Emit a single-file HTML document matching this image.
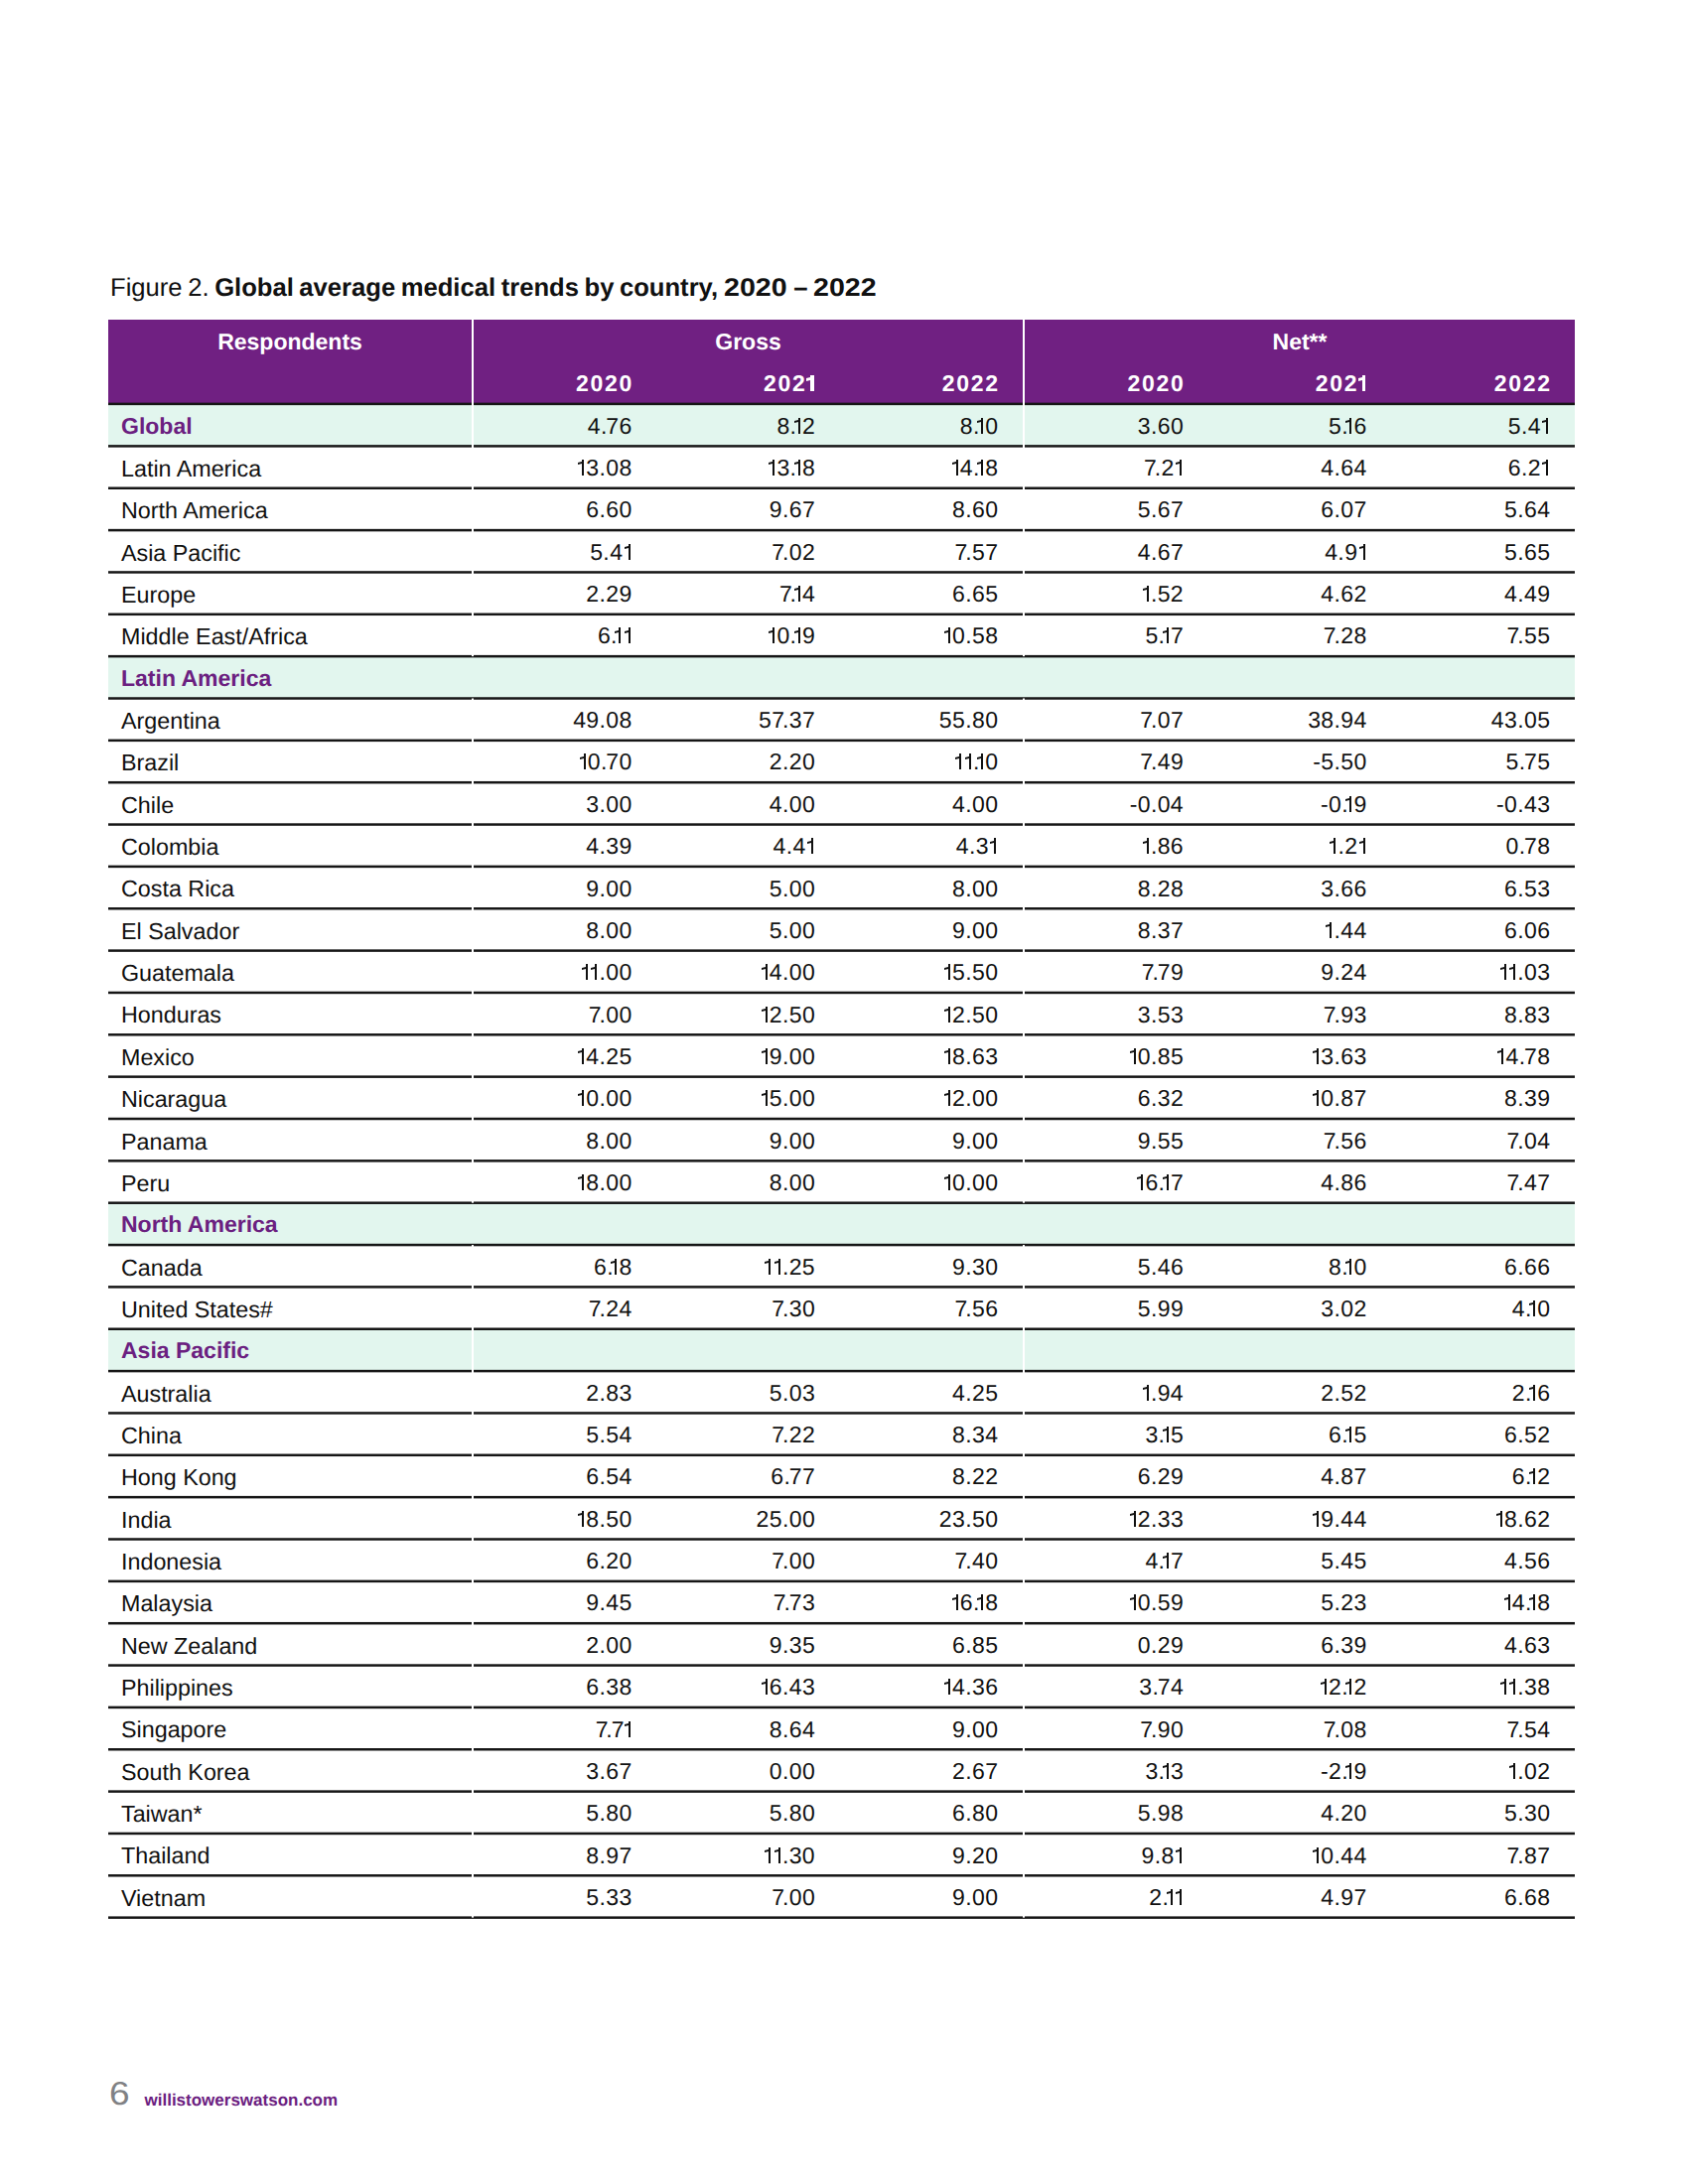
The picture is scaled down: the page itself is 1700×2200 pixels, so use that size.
<!DOCTYPE html>
<html><head><meta charset="utf-8"><title>Figure 2</title><style>
html,body{margin:0;padding:0;background:#fff;}
body{width:1700px;height:2200px;position:relative;overflow:hidden;font-family:"Liberation Sans",sans-serif;color:#111111;text-rendering:geometricPrecision;}
svg{position:absolute;left:0;top:0;}
.ts{display:inline-block;transform:scaleX(1.117);transform-origin:0 0;margin-right:8.0px;}
.a{position:absolute;white-space:nowrap;line-height:40px;height:40px;}
.r{text-align:right;}
.c{text-align:center;}
.hd{color:#fff;font-weight:bold;font-size:23px;}
.lb{font-size:23.3px;}
.nb{font-size:23px;letter-spacing:0.4px;}
.rg{font-size:23px;font-weight:bold;color:#6b2080;}
i.o,i.ob{display:inline-block;position:relative;vertical-align:baseline;font-style:normal;}
i.o{width:6.0px;height:16px;margin-right:2.2px;}
i.ob{width:7.2px;height:16px;margin-right:1.0px;}
i.o::before,i.ob::before{content:"";position:absolute;right:0;top:0;bottom:0;background:currentColor;}
i.o::before{width:2.0px;}
i.ob::before{width:3.4px;}
i.o::after,i.ob::after{content:"";position:absolute;left:0;background:currentColor;transform-origin:100% 0;}
i.o::after{top:2.4px;width:4.0px;height:1.8px;transform:skewY(-14deg);}
i.ob::after{top:2.5px;width:4.0px;height:2.8px;transform:skewY(-14deg);}
</style></head><body>

<div class="a" style="left:111.00px;top:269.82px;font-size:25.60px;word-spacing:-1.5px;color:#111111">Figure 2. <b>Global average medical trends by country, <span class="ts">2020</span> – <span class="ts">2022</span></b></div>
<svg width="1700" height="2200" viewBox="0 0 1700 2200">
<rect x="109.00" y="322.00" width="1477.00" height="84.90" fill="#702082"/>
<rect x="109.00" y="406.90" width="1477.00" height="42.50" fill="#e2f6ee"/>
<rect x="109.00" y="661.15" width="1477.00" height="42.35" fill="#e2f6ee"/>
<rect x="109.00" y="1211.70" width="1477.00" height="42.35" fill="#e2f6ee"/>
<rect x="109.00" y="1338.75" width="1477.00" height="42.35" fill="#e2f6ee"/>
<rect x="109.00" y="405.65" width="1477.00" height="2.50" fill="#161616"/>
<rect x="109.00" y="448.15" width="1477.00" height="2.50" fill="#161616"/>
<rect x="109.00" y="490.50" width="1477.00" height="2.50" fill="#161616"/>
<rect x="109.00" y="532.85" width="1477.00" height="2.50" fill="#161616"/>
<rect x="109.00" y="575.20" width="1477.00" height="2.50" fill="#161616"/>
<rect x="109.00" y="617.55" width="1477.00" height="2.50" fill="#161616"/>
<rect x="109.00" y="659.90" width="1477.00" height="2.50" fill="#161616"/>
<rect x="109.00" y="702.25" width="1477.00" height="2.50" fill="#161616"/>
<rect x="109.00" y="744.60" width="1477.00" height="2.50" fill="#161616"/>
<rect x="109.00" y="786.95" width="1477.00" height="2.50" fill="#161616"/>
<rect x="109.00" y="829.30" width="1477.00" height="2.50" fill="#161616"/>
<rect x="109.00" y="871.65" width="1477.00" height="2.50" fill="#161616"/>
<rect x="109.00" y="914.00" width="1477.00" height="2.50" fill="#161616"/>
<rect x="109.00" y="956.35" width="1477.00" height="2.50" fill="#161616"/>
<rect x="109.00" y="998.70" width="1477.00" height="2.50" fill="#161616"/>
<rect x="109.00" y="1041.05" width="1477.00" height="2.50" fill="#161616"/>
<rect x="109.00" y="1083.40" width="1477.00" height="2.50" fill="#161616"/>
<rect x="109.00" y="1125.75" width="1477.00" height="2.50" fill="#161616"/>
<rect x="109.00" y="1168.10" width="1477.00" height="2.50" fill="#161616"/>
<rect x="109.00" y="1210.45" width="1477.00" height="2.50" fill="#161616"/>
<rect x="109.00" y="1252.80" width="1477.00" height="2.50" fill="#161616"/>
<rect x="109.00" y="1295.15" width="1477.00" height="2.50" fill="#161616"/>
<rect x="109.00" y="1337.50" width="1477.00" height="2.50" fill="#161616"/>
<rect x="109.00" y="1379.85" width="1477.00" height="2.50" fill="#161616"/>
<rect x="109.00" y="1422.20" width="1477.00" height="2.50" fill="#161616"/>
<rect x="109.00" y="1464.55" width="1477.00" height="2.50" fill="#161616"/>
<rect x="109.00" y="1506.90" width="1477.00" height="2.50" fill="#161616"/>
<rect x="109.00" y="1549.25" width="1477.00" height="2.50" fill="#161616"/>
<rect x="109.00" y="1591.60" width="1477.00" height="2.50" fill="#161616"/>
<rect x="109.00" y="1633.95" width="1477.00" height="2.50" fill="#161616"/>
<rect x="109.00" y="1676.30" width="1477.00" height="2.50" fill="#161616"/>
<rect x="109.00" y="1718.65" width="1477.00" height="2.50" fill="#161616"/>
<rect x="109.00" y="1761.00" width="1477.00" height="2.50" fill="#161616"/>
<rect x="109.00" y="1803.35" width="1477.00" height="2.50" fill="#161616"/>
<rect x="109.00" y="1845.70" width="1477.00" height="2.50" fill="#161616"/>
<rect x="109.00" y="1888.05" width="1477.00" height="2.50" fill="#161616"/>
<rect x="109.00" y="1930.40" width="1477.00" height="2.50" fill="#161616"/>
<rect x="475.00" y="322.00" width="2.00" height="339.15" fill="#fff"/>
<rect x="1030.00" y="322.00" width="2.00" height="339.15" fill="#fff"/>
<rect x="475.00" y="703.50" width="2.00" height="508.20" fill="#fff"/>
<rect x="1030.00" y="703.50" width="2.00" height="508.20" fill="#fff"/>
<rect x="475.00" y="1254.05" width="2.00" height="677.60" fill="#fff"/>
<rect x="1030.00" y="1254.05" width="2.00" height="677.60" fill="#fff"/>
</svg>
<div class="a c hd" style="left:109.00px;width:366.00px;top:324.03px">Respondents</div>
<div class="a c hd" style="left:477.00px;width:553.00px;top:324.03px">Gross</div>
<div class="a c hd" style="left:1032.00px;width:554.00px;top:324.03px">Net**</div>
<div class="a r hd" style="right:1061.97px;top:365.53px;letter-spacing:1.7px">2020</div>
<div class="a r hd" style="right:879.33px;top:365.53px;letter-spacing:1.7px">202<i class="ob" style="margin-left:0.0px"></i></div>
<div class="a r hd" style="right:693.30px;top:365.53px;letter-spacing:1.7px">2022</div>
<div class="a r hd" style="right:506.63px;top:365.53px;letter-spacing:1.7px">2020</div>
<div class="a r hd" style="right:323.67px;top:365.53px;letter-spacing:1.7px">202<i class="ob" style="margin-left:0.0px"></i></div>
<div class="a r hd" style="right:137.30px;top:365.53px;letter-spacing:1.7px">2022</div>
<div class="a rg" style="left:122.00px;top:408.53px">Global</div>
<div class="a r nb" style="right:1063.27px;top:408.53px">4.<span style="margin-left:-1.5px">7</span>6</div>
<div class="a r nb" style="right:878.93px;top:408.53px">8.<i class="o" style="margin-left:-2.7px"></i>2</div>
<div class="a r nb" style="right:694.60px;top:408.53px">8.<i class="o" style="margin-left:-2.7px"></i>0</div>
<div class="a r nb" style="right:507.93px;top:408.53px">3.60</div>
<div class="a r nb" style="right:323.27px;top:408.53px">5.<i class="o" style="margin-left:-2.7px"></i>6</div>
<div class="a r nb" style="right:138.50px;top:408.53px">5.4<i class="o" style="margin-left:1.3px"></i></div>
<div class="a lb" style="left:122.00px;top:451.92px">Latin America</div>
<div class="a r nb" style="right:1063.27px;top:451.03px"><i class="o" style="margin-left:0px"></i>3.08</div>
<div class="a r nb" style="right:878.93px;top:451.03px"><i class="o" style="margin-left:0px"></i>3.<i class="o" style="margin-left:-2.7px"></i>8</div>
<div class="a r nb" style="right:694.60px;top:451.03px"><i class="o" style="margin-left:0px"></i>4.<i class="o" style="margin-left:-2.7px"></i>8</div>
<div class="a r nb" style="right:507.83px;top:451.03px">7<span style="margin-left:-2.5px">.</span>2<i class="o" style="margin-left:1.3px"></i></div>
<div class="a r nb" style="right:323.27px;top:451.03px">4.64</div>
<div class="a r nb" style="right:138.50px;top:451.03px">6.2<i class="o" style="margin-left:1.3px"></i></div>
<div class="a lb" style="left:122.00px;top:494.27px">North America</div>
<div class="a r nb" style="right:1063.27px;top:493.38px">6.60</div>
<div class="a r nb" style="right:878.93px;top:493.38px">9.67</div>
<div class="a r nb" style="right:694.60px;top:493.38px">8.60</div>
<div class="a r nb" style="right:507.93px;top:493.38px">5.67</div>
<div class="a r nb" style="right:323.27px;top:493.38px">6.07</div>
<div class="a r nb" style="right:138.60px;top:493.38px">5.64</div>
<div class="a lb" style="left:122.00px;top:536.62px">Asia Pacific</div>
<div class="a r nb" style="right:1063.17px;top:535.73px">5.4<i class="o" style="margin-left:1.3px"></i></div>
<div class="a r nb" style="right:878.93px;top:535.73px">7<span style="margin-left:-2.5px">.</span>02</div>
<div class="a r nb" style="right:694.60px;top:535.73px">7<span style="margin-left:-2.5px">.</span>57</div>
<div class="a r nb" style="right:507.93px;top:535.73px">4.67</div>
<div class="a r nb" style="right:323.17px;top:535.73px">4.9<i class="o" style="margin-left:1.3px"></i></div>
<div class="a r nb" style="right:138.60px;top:535.73px">5.65</div>
<div class="a lb" style="left:122.00px;top:578.97px">Europe</div>
<div class="a r nb" style="right:1063.27px;top:578.08px">2.29</div>
<div class="a r nb" style="right:878.93px;top:578.08px">7<span style="margin-left:-2.5px">.</span><i class="o" style="margin-left:-2.7px"></i>4</div>
<div class="a r nb" style="right:694.60px;top:578.08px">6.65</div>
<div class="a r nb" style="right:507.93px;top:578.08px"><i class="o" style="margin-left:0px"></i>.52</div>
<div class="a r nb" style="right:323.27px;top:578.08px">4.62</div>
<div class="a r nb" style="right:138.60px;top:578.08px">4.49</div>
<div class="a lb" style="left:122.00px;top:621.32px">Middle East/Africa</div>
<div class="a r nb" style="right:1063.17px;top:620.43px">6.<i class="o" style="margin-left:-2.7px"></i><i class="o" style="margin-left:1.3px"></i></div>
<div class="a r nb" style="right:878.93px;top:620.43px"><i class="o" style="margin-left:0px"></i>0.<i class="o" style="margin-left:-2.7px"></i>9</div>
<div class="a r nb" style="right:694.60px;top:620.43px"><i class="o" style="margin-left:0px"></i>0.58</div>
<div class="a r nb" style="right:507.93px;top:620.43px">5.<i class="o" style="margin-left:-2.7px"></i>7</div>
<div class="a r nb" style="right:323.27px;top:620.43px">7<span style="margin-left:-2.5px">.</span>28</div>
<div class="a r nb" style="right:138.60px;top:620.43px">7<span style="margin-left:-2.5px">.</span>55</div>
<div class="a rg" style="left:122.00px;top:662.78px">Latin America</div>
<div class="a lb" style="left:122.00px;top:706.02px">Argentina</div>
<div class="a r nb" style="right:1063.27px;top:705.13px">49.08</div>
<div class="a r nb" style="right:878.93px;top:705.13px">57<span style="margin-left:-2.5px">.</span>37</div>
<div class="a r nb" style="right:694.60px;top:705.13px">55.80</div>
<div class="a r nb" style="right:507.93px;top:705.13px">7<span style="margin-left:-2.5px">.</span>07</div>
<div class="a r nb" style="right:323.27px;top:705.13px">38.94</div>
<div class="a r nb" style="right:138.60px;top:705.13px">43.05</div>
<div class="a lb" style="left:122.00px;top:748.37px">Brazil</div>
<div class="a r nb" style="right:1063.27px;top:747.48px"><i class="o" style="margin-left:0px"></i>0.<span style="margin-left:-1.5px">7</span>0</div>
<div class="a r nb" style="right:878.93px;top:747.48px">2.20</div>
<div class="a r nb" style="right:694.60px;top:747.48px"><i class="o" style="margin-left:0px"></i><i class="o" style="margin-left:1.3px"></i>.<i class="o" style="margin-left:-2.7px"></i>0</div>
<div class="a r nb" style="right:507.93px;top:747.48px">7<span style="margin-left:-2.5px">.</span>49</div>
<div class="a r nb" style="right:323.27px;top:747.48px">-5.50</div>
<div class="a r nb" style="right:138.60px;top:747.48px">5.<span style="margin-left:-1.5px">7</span>5</div>
<div class="a lb" style="left:122.00px;top:790.72px">Chile</div>
<div class="a r nb" style="right:1063.27px;top:789.83px">3.00</div>
<div class="a r nb" style="right:878.93px;top:789.83px">4.00</div>
<div class="a r nb" style="right:694.60px;top:789.83px">4.00</div>
<div class="a r nb" style="right:507.93px;top:789.83px">-0.04</div>
<div class="a r nb" style="right:323.27px;top:789.83px">-0.<i class="o" style="margin-left:-2.7px"></i>9</div>
<div class="a r nb" style="right:138.60px;top:789.83px">-0.43</div>
<div class="a lb" style="left:122.00px;top:833.07px">Colombia</div>
<div class="a r nb" style="right:1063.27px;top:832.18px">4.39</div>
<div class="a r nb" style="right:878.83px;top:832.18px">4.4<i class="o" style="margin-left:1.3px"></i></div>
<div class="a r nb" style="right:694.50px;top:832.18px">4.3<i class="o" style="margin-left:1.3px"></i></div>
<div class="a r nb" style="right:507.93px;top:832.18px"><i class="o" style="margin-left:0px"></i>.86</div>
<div class="a r nb" style="right:323.17px;top:832.18px"><i class="o" style="margin-left:0px"></i>.2<i class="o" style="margin-left:1.3px"></i></div>
<div class="a r nb" style="right:138.60px;top:832.18px">0.<span style="margin-left:-1.5px">7</span>8</div>
<div class="a lb" style="left:122.00px;top:875.42px">Costa Rica</div>
<div class="a r nb" style="right:1063.27px;top:874.53px">9.00</div>
<div class="a r nb" style="right:878.93px;top:874.53px">5.00</div>
<div class="a r nb" style="right:694.60px;top:874.53px">8.00</div>
<div class="a r nb" style="right:507.93px;top:874.53px">8.28</div>
<div class="a r nb" style="right:323.27px;top:874.53px">3.66</div>
<div class="a r nb" style="right:138.60px;top:874.53px">6.53</div>
<div class="a lb" style="left:122.00px;top:917.77px">El Salvador</div>
<div class="a r nb" style="right:1063.27px;top:916.88px">8.00</div>
<div class="a r nb" style="right:878.93px;top:916.88px">5.00</div>
<div class="a r nb" style="right:694.60px;top:916.88px">9.00</div>
<div class="a r nb" style="right:507.93px;top:916.88px">8.37</div>
<div class="a r nb" style="right:323.27px;top:916.88px"><i class="o" style="margin-left:0px"></i>.44</div>
<div class="a r nb" style="right:138.60px;top:916.88px">6.06</div>
<div class="a lb" style="left:122.00px;top:960.12px">Guatemala</div>
<div class="a r nb" style="right:1063.27px;top:959.23px"><i class="o" style="margin-left:0px"></i><i class="o" style="margin-left:1.3px"></i>.00</div>
<div class="a r nb" style="right:878.93px;top:959.23px"><i class="o" style="margin-left:0px"></i>4.00</div>
<div class="a r nb" style="right:694.60px;top:959.23px"><i class="o" style="margin-left:0px"></i>5.50</div>
<div class="a r nb" style="right:507.93px;top:959.23px">7<span style="margin-left:-2.5px">.</span><span style="margin-left:-1.5px">7</span>9</div>
<div class="a r nb" style="right:323.27px;top:959.23px">9.24</div>
<div class="a r nb" style="right:138.60px;top:959.23px"><i class="o" style="margin-left:0px"></i><i class="o" style="margin-left:1.3px"></i>.03</div>
<div class="a lb" style="left:122.00px;top:1002.47px">Honduras</div>
<div class="a r nb" style="right:1063.27px;top:1001.58px">7<span style="margin-left:-2.5px">.</span>00</div>
<div class="a r nb" style="right:878.93px;top:1001.58px"><i class="o" style="margin-left:0px"></i>2.50</div>
<div class="a r nb" style="right:694.60px;top:1001.58px"><i class="o" style="margin-left:0px"></i>2.50</div>
<div class="a r nb" style="right:507.93px;top:1001.58px">3.53</div>
<div class="a r nb" style="right:323.27px;top:1001.58px">7<span style="margin-left:-2.5px">.</span>93</div>
<div class="a r nb" style="right:138.60px;top:1001.58px">8.83</div>
<div class="a lb" style="left:122.00px;top:1044.82px">Mexico</div>
<div class="a r nb" style="right:1063.27px;top:1043.93px"><i class="o" style="margin-left:0px"></i>4.25</div>
<div class="a r nb" style="right:878.93px;top:1043.93px"><i class="o" style="margin-left:0px"></i>9.00</div>
<div class="a r nb" style="right:694.60px;top:1043.93px"><i class="o" style="margin-left:0px"></i>8.63</div>
<div class="a r nb" style="right:507.93px;top:1043.93px"><i class="o" style="margin-left:0px"></i>0.85</div>
<div class="a r nb" style="right:323.27px;top:1043.93px"><i class="o" style="margin-left:0px"></i>3.63</div>
<div class="a r nb" style="right:138.60px;top:1043.93px"><i class="o" style="margin-left:0px"></i>4.<span style="margin-left:-1.5px">7</span>8</div>
<div class="a lb" style="left:122.00px;top:1087.17px">Nicaragua</div>
<div class="a r nb" style="right:1063.27px;top:1086.28px"><i class="o" style="margin-left:0px"></i>0.00</div>
<div class="a r nb" style="right:878.93px;top:1086.28px"><i class="o" style="margin-left:0px"></i>5.00</div>
<div class="a r nb" style="right:694.60px;top:1086.28px"><i class="o" style="margin-left:0px"></i>2.00</div>
<div class="a r nb" style="right:507.93px;top:1086.28px">6.32</div>
<div class="a r nb" style="right:323.27px;top:1086.28px"><i class="o" style="margin-left:0px"></i>0.87</div>
<div class="a r nb" style="right:138.60px;top:1086.28px">8.39</div>
<div class="a lb" style="left:122.00px;top:1129.52px">Panama</div>
<div class="a r nb" style="right:1063.27px;top:1128.63px">8.00</div>
<div class="a r nb" style="right:878.93px;top:1128.63px">9.00</div>
<div class="a r nb" style="right:694.60px;top:1128.63px">9.00</div>
<div class="a r nb" style="right:507.93px;top:1128.63px">9.55</div>
<div class="a r nb" style="right:323.27px;top:1128.63px">7<span style="margin-left:-2.5px">.</span>56</div>
<div class="a r nb" style="right:138.60px;top:1128.63px">7<span style="margin-left:-2.5px">.</span>04</div>
<div class="a lb" style="left:122.00px;top:1171.87px">Peru</div>
<div class="a r nb" style="right:1063.27px;top:1170.98px"><i class="o" style="margin-left:0px"></i>8.00</div>
<div class="a r nb" style="right:878.93px;top:1170.98px">8.00</div>
<div class="a r nb" style="right:694.60px;top:1170.98px"><i class="o" style="margin-left:0px"></i>0.00</div>
<div class="a r nb" style="right:507.93px;top:1170.98px"><i class="o" style="margin-left:0px"></i>6.<i class="o" style="margin-left:-2.7px"></i>7</div>
<div class="a r nb" style="right:323.27px;top:1170.98px">4.86</div>
<div class="a r nb" style="right:138.60px;top:1170.98px">7<span style="margin-left:-2.5px">.</span>47</div>
<div class="a rg" style="left:122.00px;top:1213.33px">North America</div>
<div class="a lb" style="left:122.00px;top:1256.57px">Canada</div>
<div class="a r nb" style="right:1063.27px;top:1255.68px">6.<i class="o" style="margin-left:-2.7px"></i>8</div>
<div class="a r nb" style="right:878.93px;top:1255.68px"><i class="o" style="margin-left:0px"></i><i class="o" style="margin-left:1.3px"></i>.25</div>
<div class="a r nb" style="right:694.60px;top:1255.68px">9.30</div>
<div class="a r nb" style="right:507.93px;top:1255.68px">5.46</div>
<div class="a r nb" style="right:323.27px;top:1255.68px">8.<i class="o" style="margin-left:-2.7px"></i>0</div>
<div class="a r nb" style="right:138.60px;top:1255.68px">6.66</div>
<div class="a lb" style="left:122.00px;top:1298.92px">United States#</div>
<div class="a r nb" style="right:1063.27px;top:1298.03px">7<span style="margin-left:-2.5px">.</span>24</div>
<div class="a r nb" style="right:878.93px;top:1298.03px">7<span style="margin-left:-2.5px">.</span>30</div>
<div class="a r nb" style="right:694.60px;top:1298.03px">7<span style="margin-left:-2.5px">.</span>56</div>
<div class="a r nb" style="right:507.93px;top:1298.03px">5.99</div>
<div class="a r nb" style="right:323.27px;top:1298.03px">3.02</div>
<div class="a r nb" style="right:138.60px;top:1298.03px">4.<i class="o" style="margin-left:-2.7px"></i>0</div>
<div class="a rg" style="left:122.00px;top:1340.38px">Asia Pacific</div>
<div class="a lb" style="left:122.00px;top:1383.62px">Australia</div>
<div class="a r nb" style="right:1063.27px;top:1382.73px">2.83</div>
<div class="a r nb" style="right:878.93px;top:1382.73px">5.03</div>
<div class="a r nb" style="right:694.60px;top:1382.73px">4.25</div>
<div class="a r nb" style="right:507.93px;top:1382.73px"><i class="o" style="margin-left:0px"></i>.94</div>
<div class="a r nb" style="right:323.27px;top:1382.73px">2.52</div>
<div class="a r nb" style="right:138.60px;top:1382.73px">2.<i class="o" style="margin-left:-2.7px"></i>6</div>
<div class="a lb" style="left:122.00px;top:1425.97px">China</div>
<div class="a r nb" style="right:1063.27px;top:1425.08px">5.54</div>
<div class="a r nb" style="right:878.93px;top:1425.08px">7<span style="margin-left:-2.5px">.</span>22</div>
<div class="a r nb" style="right:694.60px;top:1425.08px">8.34</div>
<div class="a r nb" style="right:507.93px;top:1425.08px">3.<i class="o" style="margin-left:-2.7px"></i>5</div>
<div class="a r nb" style="right:323.27px;top:1425.08px">6.<i class="o" style="margin-left:-2.7px"></i>5</div>
<div class="a r nb" style="right:138.60px;top:1425.08px">6.52</div>
<div class="a lb" style="left:122.00px;top:1468.32px">Hong Kong</div>
<div class="a r nb" style="right:1063.27px;top:1467.43px">6.54</div>
<div class="a r nb" style="right:878.93px;top:1467.43px">6.<span style="margin-left:-1.5px">7</span>7</div>
<div class="a r nb" style="right:694.60px;top:1467.43px">8.22</div>
<div class="a r nb" style="right:507.93px;top:1467.43px">6.29</div>
<div class="a r nb" style="right:323.27px;top:1467.43px">4.87</div>
<div class="a r nb" style="right:138.60px;top:1467.43px">6.<i class="o" style="margin-left:-2.7px"></i>2</div>
<div class="a lb" style="left:122.00px;top:1510.67px">India</div>
<div class="a r nb" style="right:1063.27px;top:1509.78px"><i class="o" style="margin-left:0px"></i>8.50</div>
<div class="a r nb" style="right:878.93px;top:1509.78px">25.00</div>
<div class="a r nb" style="right:694.60px;top:1509.78px">23.50</div>
<div class="a r nb" style="right:507.93px;top:1509.78px"><i class="o" style="margin-left:0px"></i>2.33</div>
<div class="a r nb" style="right:323.27px;top:1509.78px"><i class="o" style="margin-left:0px"></i>9.44</div>
<div class="a r nb" style="right:138.60px;top:1509.78px"><i class="o" style="margin-left:0px"></i>8.62</div>
<div class="a lb" style="left:122.00px;top:1553.02px">Indonesia</div>
<div class="a r nb" style="right:1063.27px;top:1552.13px">6.20</div>
<div class="a r nb" style="right:878.93px;top:1552.13px">7<span style="margin-left:-2.5px">.</span>00</div>
<div class="a r nb" style="right:694.60px;top:1552.13px">7<span style="margin-left:-2.5px">.</span>40</div>
<div class="a r nb" style="right:507.93px;top:1552.13px">4.<i class="o" style="margin-left:-2.7px"></i>7</div>
<div class="a r nb" style="right:323.27px;top:1552.13px">5.45</div>
<div class="a r nb" style="right:138.60px;top:1552.13px">4.56</div>
<div class="a lb" style="left:122.00px;top:1595.37px">Malaysia</div>
<div class="a r nb" style="right:1063.27px;top:1594.48px">9.45</div>
<div class="a r nb" style="right:878.93px;top:1594.48px">7<span style="margin-left:-2.5px">.</span><span style="margin-left:-1.5px">7</span>3</div>
<div class="a r nb" style="right:694.60px;top:1594.48px"><i class="o" style="margin-left:0px"></i>6.<i class="o" style="margin-left:-2.7px"></i>8</div>
<div class="a r nb" style="right:507.93px;top:1594.48px"><i class="o" style="margin-left:0px"></i>0.59</div>
<div class="a r nb" style="right:323.27px;top:1594.48px">5.23</div>
<div class="a r nb" style="right:138.60px;top:1594.48px"><i class="o" style="margin-left:0px"></i>4.<i class="o" style="margin-left:-2.7px"></i>8</div>
<div class="a lb" style="left:122.00px;top:1637.72px">New Zealand</div>
<div class="a r nb" style="right:1063.27px;top:1636.83px">2.00</div>
<div class="a r nb" style="right:878.93px;top:1636.83px">9.35</div>
<div class="a r nb" style="right:694.60px;top:1636.83px">6.85</div>
<div class="a r nb" style="right:507.93px;top:1636.83px">0.29</div>
<div class="a r nb" style="right:323.27px;top:1636.83px">6.39</div>
<div class="a r nb" style="right:138.60px;top:1636.83px">4.63</div>
<div class="a lb" style="left:122.00px;top:1680.07px">Philippines</div>
<div class="a r nb" style="right:1063.27px;top:1679.18px">6.38</div>
<div class="a r nb" style="right:878.93px;top:1679.18px"><i class="o" style="margin-left:0px"></i>6.43</div>
<div class="a r nb" style="right:694.60px;top:1679.18px"><i class="o" style="margin-left:0px"></i>4.36</div>
<div class="a r nb" style="right:507.93px;top:1679.18px">3.<span style="margin-left:-1.5px">7</span>4</div>
<div class="a r nb" style="right:323.27px;top:1679.18px"><i class="o" style="margin-left:0px"></i>2.<i class="o" style="margin-left:-2.7px"></i>2</div>
<div class="a r nb" style="right:138.60px;top:1679.18px"><i class="o" style="margin-left:0px"></i><i class="o" style="margin-left:1.3px"></i>.38</div>
<div class="a lb" style="left:122.00px;top:1722.42px">Singapore</div>
<div class="a r nb" style="right:1063.17px;top:1721.53px">7<span style="margin-left:-2.5px">.</span><span style="margin-left:-1.5px">7</span><i class="o" style="margin-left:-0.2px"></i></div>
<div class="a r nb" style="right:878.93px;top:1721.53px">8.64</div>
<div class="a r nb" style="right:694.60px;top:1721.53px">9.00</div>
<div class="a r nb" style="right:507.93px;top:1721.53px">7<span style="margin-left:-2.5px">.</span>90</div>
<div class="a r nb" style="right:323.27px;top:1721.53px">7<span style="margin-left:-2.5px">.</span>08</div>
<div class="a r nb" style="right:138.60px;top:1721.53px">7<span style="margin-left:-2.5px">.</span>54</div>
<div class="a lb" style="left:122.00px;top:1764.77px">South Korea</div>
<div class="a r nb" style="right:1063.27px;top:1763.88px">3.67</div>
<div class="a r nb" style="right:878.93px;top:1763.88px">0.00</div>
<div class="a r nb" style="right:694.60px;top:1763.88px">2.67</div>
<div class="a r nb" style="right:507.93px;top:1763.88px">3.<i class="o" style="margin-left:-2.7px"></i>3</div>
<div class="a r nb" style="right:323.27px;top:1763.88px">-2.<i class="o" style="margin-left:-2.7px"></i>9</div>
<div class="a r nb" style="right:138.60px;top:1763.88px"><i class="o" style="margin-left:0px"></i>.02</div>
<div class="a lb" style="left:122.00px;top:1807.12px">Taiwan*</div>
<div class="a r nb" style="right:1063.27px;top:1806.23px">5.80</div>
<div class="a r nb" style="right:878.93px;top:1806.23px">5.80</div>
<div class="a r nb" style="right:694.60px;top:1806.23px">6.80</div>
<div class="a r nb" style="right:507.93px;top:1806.23px">5.98</div>
<div class="a r nb" style="right:323.27px;top:1806.23px">4.20</div>
<div class="a r nb" style="right:138.60px;top:1806.23px">5.30</div>
<div class="a lb" style="left:122.00px;top:1849.47px">Thailand</div>
<div class="a r nb" style="right:1063.27px;top:1848.58px">8.97</div>
<div class="a r nb" style="right:878.93px;top:1848.58px"><i class="o" style="margin-left:0px"></i><i class="o" style="margin-left:1.3px"></i>.30</div>
<div class="a r nb" style="right:694.60px;top:1848.58px">9.20</div>
<div class="a r nb" style="right:507.83px;top:1848.58px">9.8<i class="o" style="margin-left:1.3px"></i></div>
<div class="a r nb" style="right:323.27px;top:1848.58px"><i class="o" style="margin-left:0px"></i>0.44</div>
<div class="a r nb" style="right:138.60px;top:1848.58px">7<span style="margin-left:-2.5px">.</span>87</div>
<div class="a lb" style="left:122.00px;top:1891.82px">Vietnam</div>
<div class="a r nb" style="right:1063.27px;top:1890.93px">5.33</div>
<div class="a r nb" style="right:878.93px;top:1890.93px">7<span style="margin-left:-2.5px">.</span>00</div>
<div class="a r nb" style="right:694.60px;top:1890.93px">9.00</div>
<div class="a r nb" style="right:507.83px;top:1890.93px">2.<i class="o" style="margin-left:-2.7px"></i><i class="o" style="margin-left:1.3px"></i></div>
<div class="a r nb" style="right:323.27px;top:1890.93px">4.97</div>
<div class="a r nb" style="right:138.60px;top:1890.93px">6.68</div>
<div class="a" style="left:110.00px;top:2088.86px;font-size:33px;color:#808184;transform:scaleX(1.12);transform-origin:0 0">6</div>
<div class="a" style="left:145.50px;top:2095.61px;font-size:17px;font-weight:bold;color:#6b2080;letter-spacing:0px">willistowerswatson.com</div>
</body></html>
